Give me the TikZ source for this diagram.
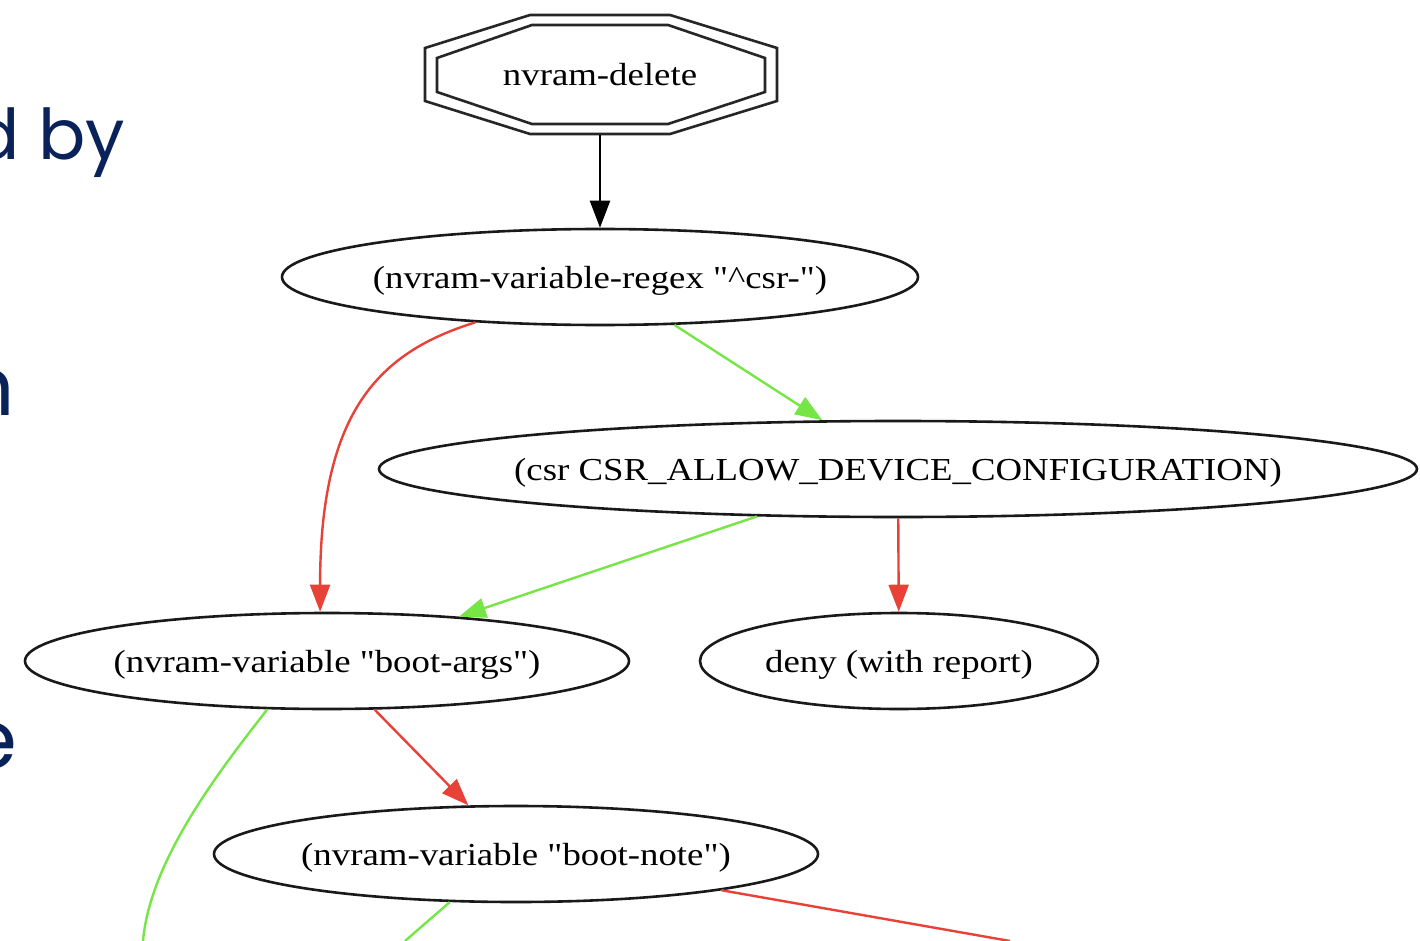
\documentclass[tikz,border=0pt]{standalone}
\usepackage{fontspec}
\setmainfont{Liberation Serif}[Ligatures=TeXOff]
\newfontfamily\slidefont{Poppins}
\usetikzlibrary{arrows.meta,shapes.geometric,calc}
\definecolor{edgered}{RGB}{232,66,56}
\definecolor{edgegreen}{RGB}{118,230,70}
\definecolor{navy}{RGB}{10,34,90}
\newcommand\glabel[1]{\makebox[0pt]{\raisebox{-11pt}[0pt][0pt]{\scalebox{1.15}[1]{#1}}}}
\begin{document}
\begin{tikzpicture}[x=1pt,y=-1pt,
  gnode/.style={ellipse, draw=black!90, line width=2.6pt, inner sep=0pt, minimum height=96pt, font=\fontsize{32}{38}\selectfont},
  gedge/.style={line width=2.4pt, -{Triangle[length=27pt,width=20pt]}},
  gline/.style={line width=2.4pt},
  slidetext/.style={text=navy, inner sep=0pt, font=\slidefont\fontsize{70}{84}\selectfont},
  bigslidetext/.style={slidetext, font=\slidefont\fontsize{82}{96}\selectfont}
]
\useasboundingbox (0,0) rectangle (1420,941);
\fill[white] (0,0) rectangle (1420,941);

% slide text fragments at the left edge
\node[slidetext, anchor=base east] (t1) at (125,160) {d by};
\node[bigslidetext, anchor=base east] (t2) at (15,415) {n};
\node[bigslidetext, anchor=base east] (t3) at (18,768) {e};

% graph nodes
\node[inner sep=0pt, minimum width=352pt, minimum height=120pt, font=\fontsize{32}{38}\selectfont] (del) at (600,75) {\glabel{nvram-delete}};
\begin{scope}[shift={(del.center)}, line width=2.6pt, black!85]
\draw (-70,-60) -- (70,-60) -- (177,-27) -- (177,26) -- (70,59) -- (-70,59) -- (-175,26) -- (-175,-27) -- cycle;
\draw (-68,-50) -- (68,-50) -- (165,-17) -- (165,17) -- (68,49) -- (-68,49) -- (-163,17) -- (-163,-17) -- cycle;
\end{scope}

\node[gnode, minimum width=636pt] (e1) at (600,277) {\glabel{(nvram-variable-regex "\textasciicircum csr-")}};
\node[gnode, minimum width=1038pt] (e2) at (898,469) {\glabel{(csr CSR\_ALLOW\_DEVICE\_CONFIGURATION)}};
\node[gnode, minimum width=604pt] (e3) at (327,661) {\glabel{(nvram-variable "boot-args")}};
\node[gnode, minimum width=398pt] (e4) at (899,661) {\glabel{deny (with report)}};
\node[gnode, minimum width=604pt] (e5) at (516,854) {\glabel{(nvram-variable "boot-note")}};

\coordinate (o1) at (143,941);
\coordinate (o2) at (405,941);
\coordinate (o3) at (1010,941);

% edges
\draw[gedge, black] (del) -- (e1);
\draw[gedge, edgered] (e1.200) .. controls (380,352) and (320,410) .. (e3.98);
\draw[gedge, edgegreen] (e1) -- (e2);
\draw[gedge, edgegreen] (e2) -- (e3);
\draw[gedge, edgered] (e2) -- (e4);
\draw[gedge, edgered] (e3) -- (e5);
\draw[gline, edgegreen] (e3.219) .. controls (220,770) and (150,860) .. (o1);
\draw[gline, edgegreen] (e5.216) -- (o2);
\draw[gline, edgered] (e5.350) -- (o3);
\end{tikzpicture}
\end{document}
